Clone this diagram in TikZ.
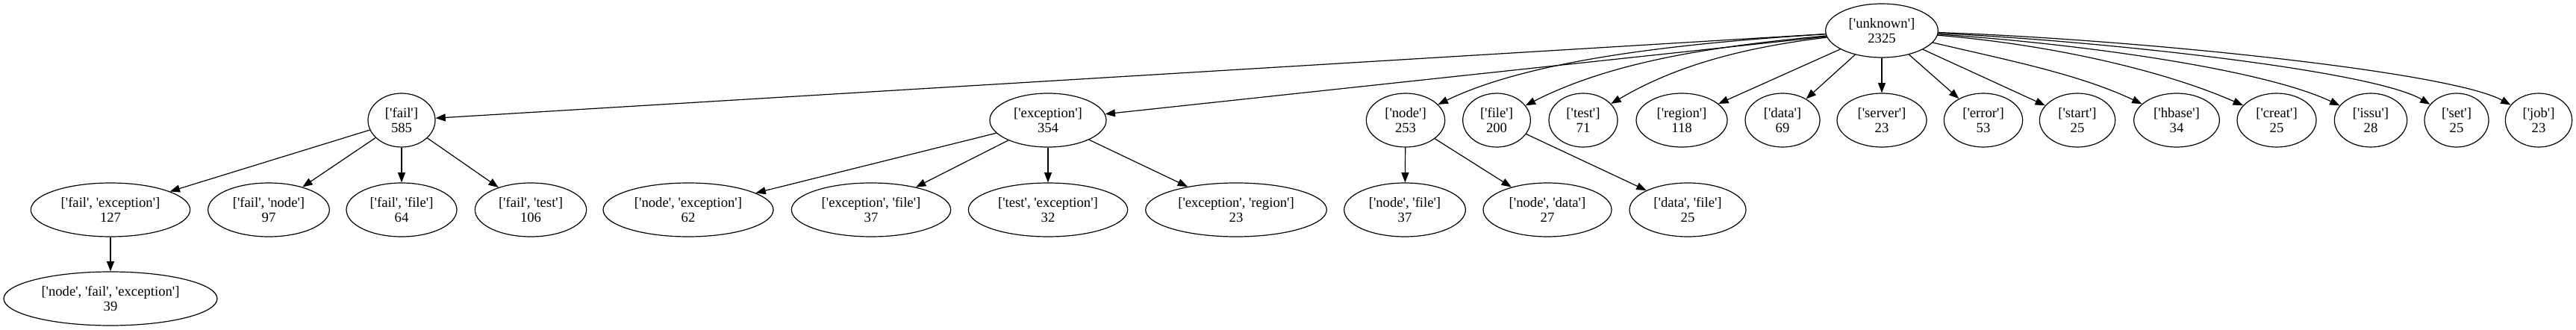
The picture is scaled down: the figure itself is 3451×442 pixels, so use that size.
\documentclass[tikz,border=0pt]{standalone}
\usepackage{fontspec}
\newfontfamily\gvfont{Liberation Serif}[Ligatures=TeXOff]
\usetikzlibrary{shapes.geometric,arrows.meta}
\begin{document}
\begin{tikzpicture}[x=0.75pt,y=-0.75pt,
  ell/.style={ellipse,draw,line width=0.9pt,minimum height=54pt,inner sep=0pt,align=center,font=\gvfont\fontsize{14}{15}\selectfont},
  edge/.style={draw,line width=0.9pt,-{Triangle[length=10pt,width=7.5pt]}}]
\useasboundingbox (0,0) rectangle (3451,442);
% level 0
\node[ell,minimum width=113pt] (unknown) at (2521,41) {['unknown']\\2325};
% level 1
\node[ell,minimum width=67.5pt] (fail) at (538,161) {['fail']\\585};
\node[ell,minimum width=117pt] (exc) at (1404,161) {['exception']\\354};
\node[ell,minimum width=79pt] (node) at (1883,161) {['node']\\253};
\node[ell,minimum width=68pt] (file) at (2005,161) {['file']\\200};
\node[ell,minimum width=69pt] (test) at (2121,161) {['test']\\71};
\node[ell,minimum width=91.5pt] (region) at (2253,161) {['region']\\118};
\node[ell,minimum width=75pt] (data) at (2388,161) {['data']\\69};
\node[ell,minimum width=90pt] (server) at (2521,161) {['server']\\23};
\node[ell,minimum width=79pt] (error) at (2657,161) {['error']\\53};
\node[ell,minimum width=76pt] (start) at (2783,161) {['start']\\25};
\node[ell,minimum width=86pt] (hbase) at (2916,161) {['hbase']\\34};
\node[ell,minimum width=79.5pt] (creat) at (3050,161) {['creat']\\25};
\node[ell,minimum width=73pt] (issu) at (3176,161) {['issu']\\28};
\node[ell,minimum width=64.5pt] (set) at (3291,161) {['set']\\25};
\node[ell,minimum width=67pt] (job) at (3401,161) {['job']\\23};
% level 2
\node[ell,minimum width=160pt] (fe) at (148,281) {['fail', 'exception']\\127};
\node[ell,minimum width=122pt] (fn) at (360,281) {['fail', 'node']\\97};
\node[ell,minimum width=111pt] (ff) at (538,281) {['fail', 'file']\\64};
\node[ell,minimum width=112pt] (ft) at (711,281) {['fail', 'test']\\106};
\node[ell,minimum width=171pt] (ne) at (922,281) {['node', 'exception']\\62};
\node[ell,minimum width=160pt] (ef) at (1167,281) {['exception', 'file']\\37};
\node[ell,minimum width=160pt] (te) at (1404,281) {['test', 'exception']\\32};
\node[ell,minimum width=182pt] (er) at (1656,281) {['exception', 'region']\\23};
\node[ell,minimum width=122pt] (nf) at (1882,281) {['node', 'file']\\37};
\node[ell,minimum width=129pt] (nd) at (2073,281) {['node', 'data']\\27};
\node[ell,minimum width=117pt] (df) at (2261,281) {['data', 'file']\\25};
% level 3
\node[ell,minimum width=214.5pt] (nfe) at (148,400) {['node', 'fail', 'exception']\\39};
% edges from unknown
\draw[edge] (unknown) -- (fail);
\draw[edge] (unknown) -- (exc);
\draw[edge] (unknown) .. controls (2250,58) and (2050,80) .. (node);
\draw[edge] (unknown) .. controls (2296,62) and (2160,82) .. (file);
\draw[edge] (unknown) .. controls (2350,62) and (2253,83) .. (test);
\draw[edge] (unknown) -- (region);
\draw[edge] (unknown) -- (data);
\draw[edge] (unknown) -- (server);
\draw[edge] (unknown) -- (error);
\draw[edge] (unknown) -- (start);
\draw[edge] (unknown) .. controls (2691,81) and (2784,99) .. (hbase);
\draw[edge] (unknown) .. controls (2750,60) and (2900,95) .. (creat);
\draw[edge] (unknown) .. controls (2780,58) and (3030,92) .. (issu);
\draw[edge] (unknown) .. controls (2820,55) and (3180,95) .. (set);
\draw[edge] (unknown) .. controls (2850,52) and (3280,95) .. (job);
% level 1 -> level 2
\draw[edge] (fail) -- (fe);
\draw[edge] (fail) -- (fn);
\draw[edge] (fail) -- (ff);
\draw[edge] (fail) -- (ft);
\draw[edge] (exc) -- (ne);
\draw[edge] (exc) -- (ef);
\draw[edge] (exc) -- (te);
\draw[edge] (exc) -- (er);
\draw[edge] (node) -- (nf);
\draw[edge] (node) -- (nd);
\draw[edge] (file) -- (df);
% level 2 -> level 3
\draw[edge] (fe) -- (nfe);
\end{tikzpicture}
\end{document}
